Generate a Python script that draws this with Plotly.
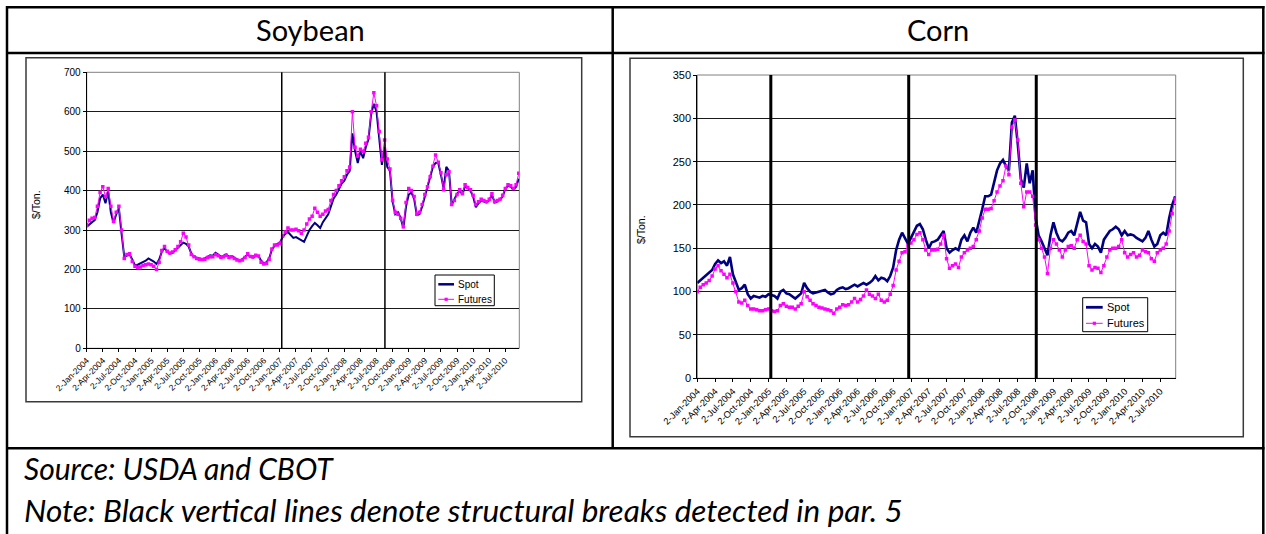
import pandas as pd
import plotly.graph_objects as go

W, H = 1266, 534

# ---------------- data ----------------
START_DATE = "2004-01-02"
END_DATE = "2010-09-17"
AXIS_END = "2010-09-20"

soy_spot = [
    308, 315, 320, 325, 345, 380, 390, 368, 398, 345, 318, 340, 355, 290, 232, 235, 238, 225, 210, 212,
    215, 218, 222, 228, 225, 220, 214, 225, 245, 255, 245, 240, 242, 248, 255, 262, 268, 265, 258, 240,
    232, 230, 228, 226, 228, 232, 236, 235, 242, 238, 232, 235, 238, 232, 234, 230, 225, 222, 226, 232,
    238, 232, 230, 234, 234, 222, 216, 218, 228, 250, 260, 265, 268, 282, 290, 295, 288, 280, 282, 278,
    272, 270, 285, 300, 310, 318, 312, 305, 320, 330, 340, 360, 380, 390, 405, 418, 425, 440, 450, 545,
    500, 470, 500, 482, 510, 530, 595, 620, 600, 540, 465, 510, 460, 450, 372, 340, 345, 330, 305, 360,
    390, 395, 380, 338, 340, 360, 385, 405, 430, 460, 470, 470, 440, 405, 460, 450, 363, 380, 392, 400,
    390, 412, 405, 400, 385, 358, 368, 375, 372, 370, 375, 390, 370, 372, 377, 385, 405, 412, 410, 402,
    410, 430,
]
soy_futures = [
    312, 325, 330, 332, 360, 395, 410, 385, 405, 360, 322, 345, 360, 300, 228, 238, 240, 220, 208, 205,
    206, 210, 212, 214, 212, 208, 200, 218, 248, 258, 246, 242, 244, 250, 258, 270, 292, 282, 262, 238,
    232, 228, 226, 225, 226, 230, 232, 232, 238, 235, 230, 232, 236, 230, 232, 228, 224, 222, 224, 230,
    240, 233, 232, 236, 234, 218, 214, 216, 226, 252, 262, 262, 266, 285, 295, 305, 300, 300, 302, 298,
    292, 300, 315, 328, 335, 355, 345, 335, 340, 348, 352, 375, 390, 400, 412, 425, 435, 450, 460, 600,
    510, 488, 505, 500, 520, 535, 600, 648, 615, 550, 478, 528, 480, 455, 375, 345, 340, 330, 308, 370,
    405, 400, 385, 340, 345, 365, 390, 410, 435, 462, 490, 472, 445, 402, 440, 448, 365, 375, 390, 402,
    392, 415, 408, 402, 388, 365, 372, 378, 375, 372, 378, 392, 372, 375, 378, 388, 405, 415, 412, 405,
    415, 444,
]
corn_spot = [
    110, 113, 116, 118, 121, 125, 132, 136, 133, 135, 130, 140, 120, 112, 102, 104, 108, 97, 92, 95,
    94, 93, 95, 94, 97, 96, 95, 92, 100, 102, 98, 97, 95, 92, 95, 98, 110, 104, 100, 98,
    99, 100, 101, 102, 99, 97, 98, 102, 104, 105, 103, 104, 106, 108, 106, 108, 110, 108, 110, 113,
    118, 113, 116, 115, 112, 118, 128, 148, 160, 168, 162, 155, 162, 170, 176, 178, 172, 160, 150, 157,
    158, 160, 165, 170, 150, 145, 148, 150, 148, 160, 165, 158, 168, 174, 168, 180, 195, 210, 210, 212,
    228, 240, 248, 252, 245, 240, 295, 303, 270, 230, 220, 248, 225, 240, 185, 165, 158, 150, 142, 165,
    180, 168, 160, 158, 162, 168, 170, 165, 178, 192, 182, 180, 155, 150, 155, 152, 145, 160, 165, 170,
    172, 175, 172, 165, 170, 165, 166, 165, 162, 160, 158, 162, 170, 160, 152, 155, 165, 168, 165, 185,
    200, 210,
]
corn_futures = [
    100, 105, 108, 110, 113, 118, 126, 130, 124, 120, 116, 120, 110, 100, 88, 87, 90, 84, 80, 80,
    79, 78, 78, 79, 80, 78, 77, 78, 84, 86, 83, 82, 82, 80, 83, 86, 100, 94, 90, 86,
    84, 82, 81, 80, 79, 78, 75, 80, 82, 85, 84, 85, 88, 92, 88, 91, 95, 102, 97, 95,
    92, 97, 90, 88, 90, 97, 107, 125, 135, 145, 146, 153, 156, 160, 166, 168, 160, 148, 143, 148,
    148, 149, 155, 165, 138, 127, 130, 132, 128, 140, 145, 148, 150, 152, 160, 170, 185, 195, 195, 196,
    205, 215, 222, 228, 245, 235, 290, 298, 275, 225, 198, 215, 215, 210, 177, 160, 150, 140, 121, 150,
    160, 155, 148, 140, 148, 152, 153, 150, 160, 165, 158, 155, 130, 125, 128, 127, 122, 130, 140, 148,
    150, 150, 152, 160, 145, 140, 143, 145, 140, 142, 148, 146, 145, 138, 135, 145, 148, 150, 155, 170,
    190, 207,
]

soy_breaks = ["2007-01-12", "2008-08-19"]
corn_breaks = ["2005-01-13", "2006-12-21", "2008-10-05"]

tick_labels = [
    "2-Jan-2004", "2-Apr-2004", "2-Jul-2004", "2-Oct-2004",
    "2-Jan-2005", "2-Apr-2005", "2-Jul-2005", "2-Oct-2005",
    "2-Jan-2006", "2-Apr-2006", "2-Jul-2006", "2-Oct-2006",
    "2-Jan-2007", "2-Apr-2007", "2-Jul-2007", "2-Oct-2007",
    "2-Jan-2008", "2-Apr-2008", "2-Jul-2008", "2-Oct-2008",
    "2-Jan-2009", "2-Apr-2009", "2-Jul-2009", "2-Oct-2009",
    "2-Jan-2010", "2-Apr-2010", "2-Jul-2010",
]

dates = pd.date_range(START_DATE, END_DATE, periods=len(soy_spot))
tick_vals = pd.to_datetime(tick_labels, format="%d-%b-%Y")

# ---------------- helpers ----------------
def fx(p):
    return p / W


def fy(p):
    return 1 - p / H


NAVY = "#000080"
MAGENTA = "#FF00FF"
FONT = "Liberation Sans, Arial, sans-serif"
DOCFONT = "Lato, Carlito, Calibri, sans-serif"

fig = go.Figure()

fig.add_trace(go.Scatter(x=dates, y=soy_spot, mode="lines", name="Spot",
                         line=dict(color=NAVY, width=2), xaxis="x", yaxis="y",
                         showlegend=False))
fig.add_trace(go.Scatter(x=dates, y=soy_futures, mode="lines+markers", name="Futures",
                         line=dict(color=MAGENTA, width=1),
                         marker=dict(symbol="square", size=3.5, color=MAGENTA),
                         xaxis="x", yaxis="y", showlegend=False))
fig.add_trace(go.Scatter(x=dates, y=corn_spot, mode="lines", name="Spot",
                         line=dict(color=NAVY, width=2.6), xaxis="x2", yaxis="y2",
                         showlegend=False))
fig.add_trace(go.Scatter(x=dates, y=corn_futures, mode="lines+markers", name="Futures",
                         line=dict(color=MAGENTA, width=1),
                         marker=dict(symbol="square", size=3.5, color=MAGENTA),
                         xaxis="x2", yaxis="y2", showlegend=False))

xcommon = dict(type="date", range=[START_DATE, AXIS_END], tickmode="array",
               tickvals=tick_vals, ticktext=tick_labels, tickangle=-45,
               showgrid=False, zeroline=False, showline=True, linecolor="#000000",
               linewidth=1, ticks="outside", ticklen=3, tickcolor="#000000",
               automargin=False)
ycommon = dict(showgrid=True, gridcolor="#1a1a1a", gridwidth=1, zeroline=False,
               showline=True, linecolor="#000000", linewidth=1, ticks="outside",
               ticklen=3, tickcolor="#000000", automargin=False)

fig.update_layout(
    width=W, height=H, autosize=False,
    margin=dict(l=0, r=0, t=0, b=0, pad=0, autoexpand=False),
    paper_bgcolor="white", plot_bgcolor="white",
    showlegend=False,
    xaxis=dict(domain=[fx(86.7), fx(519.3)], anchor="y",
               tickfont=dict(family=FONT, size=8.5, color="#000"), **xcommon),
    yaxis=dict(domain=[fy(348.3), fy(72.3)], anchor="x", range=[0, 700], dtick=100,
               tickfont=dict(family=FONT, size=10, color="#000"), **ycommon),
    xaxis2=dict(domain=[fx(697.3), fx(1175.7)], anchor="y2",
                tickfont=dict(family=FONT, size=9.3, color="#000"), **xcommon),
    yaxis2=dict(domain=[fy(378.3), fy(75)], anchor="x2", range=[0, 350], dtick=50,
                tickfont=dict(family=FONT, size=11, color="#000"), **ycommon),
)

shapes = []
annotations = []

# plot area borders (gray)
for xr, yr in (("x domain", "y domain"), ("x2 domain", "y2 domain")):
    shapes.append(dict(type="rect", xref=xr, yref=yr, x0=0, x1=1, y0=0, y1=1,
                       line=dict(color="#808080", width=1), layer="below"))

# structural break lines
for d in soy_breaks:
    shapes.append(dict(type="line", xref="x", yref="y domain", x0=d, x1=d, y0=0, y1=1,
                       line=dict(color="#000000", width=1.5)))
for d in corn_breaks:
    shapes.append(dict(type="line", xref="x2", yref="y2 domain", x0=d, x1=d, y0=0, y1=1,
                       line=dict(color="#000000", width=3)))

# chart frames
for (x0, y0, x1, y1) in ((26, 57.7, 581.7, 401.7), (630, 58.3, 1243.3, 436.7)):
    shapes.append(dict(type="rect", xref="paper", yref="paper",
                       x0=fx(x0), x1=fx(x1), y0=fy(y1), y1=fy(y0),
                       line=dict(color="#3a3a3a", width=1.5)))

# table lines
TL = dict(color="#000000", width=2.5)
for (x0, y0, x1, y1) in ((6, 7.3, 1264.5, 7.3), (6, 53, 1264.5, 53), (6, 448.3, 1264.5, 448.3),
                         (7, 6, 7, 534), (1263.3, 6, 1263.3, 534), (612.7, 6, 612.7, 448.3)):
    shapes.append(dict(type="line", xref="paper", yref="paper",
                       x0=fx(x0), x1=fx(x1), y0=fy(y0), y1=fy(y1), line=TL))

# legends (drawn manually)
def legend(box, xl0, xl1, xt, y_spot, y_fut, fs, spot_w):
    bx0, by0, bx1, by1 = box
    shapes.append(dict(type="rect", xref="paper", yref="paper",
                       x0=fx(bx0), x1=fx(bx1), y0=fy(by1), y1=fy(by0),
                       line=dict(color="#000000", width=1), fillcolor="white"))
    shapes.append(dict(type="line", xref="paper", yref="paper",
                       x0=fx(xl0), x1=fx(xl1), y0=fy(y_spot), y1=fy(y_spot),
                       line=dict(color=NAVY, width=spot_w)))
    shapes.append(dict(type="line", xref="paper", yref="paper",
                       x0=fx(xl0), x1=fx(xl1), y0=fy(y_fut), y1=fy(y_fut),
                       line=dict(color=MAGENTA, width=1)))
    xc = (xl0 + xl1) / 2
    shapes.append(dict(type="rect", xref="paper", yref="paper",
                       x0=fx(xc - 1.6), x1=fx(xc + 1.6), y0=fy(y_fut + 1.6), y1=fy(y_fut - 1.6),
                       line=dict(color=MAGENTA, width=0), fillcolor=MAGENTA))
    for txt, yy in (("Spot", y_spot), ("Futures", y_fut)):
        annotations.append(dict(text=txt, x=fx(xt), y=fy(yy), xref="paper", yref="paper",
                                xanchor="left", yanchor="middle", showarrow=False,
                                font=dict(family=FONT, size=fs, color="#000")))


legend((435, 275, 494.3, 305.7), 438.3, 454, 455.5, 284.3, 299.3, 10, 2.5)
legend((1082.7, 297.7, 1147.7, 331.7), 1086, 1102.7, 1104.5, 307.3, 323.3, 11, 2.8)

# axis titles
annotations.append(dict(text="$/Ton.", x=fx(36), y=fy(205), xref="paper", yref="paper",
                        textangle=-90, showarrow=False, xanchor="center", yanchor="middle",
                        font=dict(family=FONT, size=10.5, color="#000")))
annotations.append(dict(text="$/Ton.", x=fx(641), y=fy(230), xref="paper", yref="paper",
                        textangle=-90, showarrow=False, xanchor="center", yanchor="middle",
                        font=dict(family=FONT, size=10.5, color="#000")))

# table texts
annotations.append(dict(text="Soybean", x=fx(310), y=fy(29), xref="paper", yref="paper",
                        showarrow=False, xanchor="center", yanchor="middle",
                        font=dict(family=DOCFONT, size=29, color="#000")))
annotations.append(dict(text="Corn", x=fx(938), y=fy(29), xref="paper", yref="paper",
                        showarrow=False, xanchor="center", yanchor="middle",
                        font=dict(family=DOCFONT, size=29, color="#000")))
annotations.append(dict(text="<i>Source: USDA and CBOT</i>", x=fx(22), y=fy(468),
                        xref="paper", yref="paper", showarrow=False,
                        xanchor="left", yanchor="middle",
                        font=dict(family=DOCFONT, size=30, color="#000")))
annotations.append(dict(text="<i>Note: Black vertical lines denote structural breaks detected in par. 5</i>",
                        x=fx(22), y=fy(510), xref="paper", yref="paper", showarrow=False,
                        xanchor="left", yanchor="middle",
                        font=dict(family=DOCFONT, size=31.5, color="#000")))

fig.update_layout(shapes=shapes, annotations=annotations)

fig.write_html(
    "out.html",
    config={"responsive": False, "displayModeBar": False},
    post_script="document.body.style.margin='0';document.body.style.padding='0';"
                "document.body.style.overflow='hidden';",
)
